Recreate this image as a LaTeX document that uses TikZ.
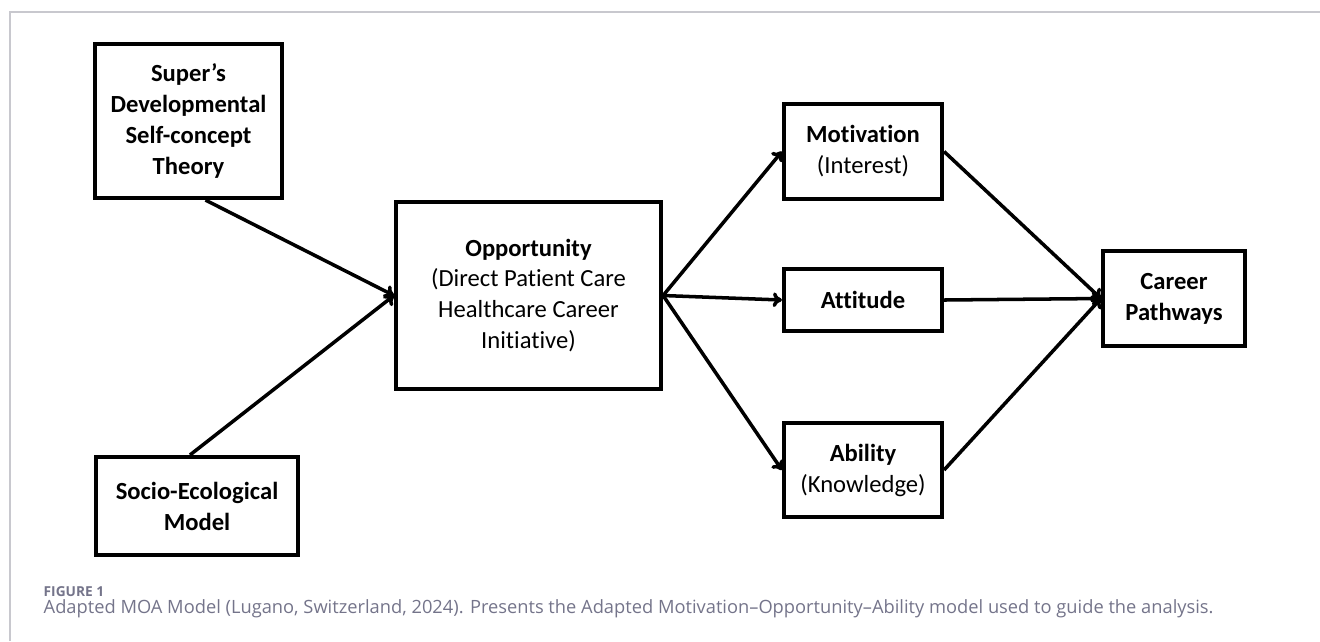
\documentclass[tikz,border=0pt]{standalone}
\usepackage{fontspec}
\setmainfont{Carlito}[Ligatures={TeX,NoCommon}]
\newfontfamily\capfont{Open Sans}
\usetikzlibrary{arrows.meta}
\definecolor{capgray}{HTML}{74748A}
\definecolor{framegray}{HTML}{C8C8CE}

\begin{document}
\begin{tikzpicture}[x=0.01cm,y=-0.01cm]
\tikzstyle{box}=[rectangle,draw,line width=1.15pt,align=center,inner sep=2pt,font=\fontsize{7}{8.8}\selectfont]
\tikzstyle{link}=[-{To[length=2.6pt,width=4.2pt]},line width=1pt]
\tikzstyle{caption}=[anchor=base west,inner sep=0pt,text=capgray]
\useasboundingbox (0,0) rectangle (1320,641);
\draw[framegray,line width=0.6pt] (10,641) -- (10,12) -- (1320,12);

% theories feeding the opportunity
\node[box,minimum width=1.87cm,minimum height=1.54cm] (super) at (188.5,121)
  {\textbf{Super’s}\\\textbf{Developmental}\\\textbf{Self-concept}\\\textbf{Theory}};
\node[box,minimum width=2.02cm,minimum height=0.98cm] (socio) at (197,506)
  {\textbf{Socio-Ecological}\\\textbf{Model}};
\node[box,minimum width=2.65cm,minimum height=1.87cm] (opp) at (528.5,295.5)
  {\textbf{Opportunity}\\(Direct Patient Care\\Healthcare Career\\Initiative)};

% M, A, A
\node[box,minimum width=1.58cm,minimum height=0.95cm] (mot) at (863,151.5)
  {\textbf{Motivation}\\(Interest)};
\node[box,minimum width=1.58cm,minimum height=0.62cm] (att) at (863,300)
  {\textbf{Attitude}};
\node[box,minimum width=1.58cm,minimum height=0.94cm] (abl) at (863,470)
  {\textbf{Ability}\\(Knowledge)};
\node[box,minimum width=1.42cm,minimum height=0.95cm] (car) at (1174,298.5)
  {\textbf{Career}\\\textbf{Pathways}};

\draw[link] ([xshift=1.7mm]super.south) -- (opp.west);
\draw[link] ([xshift=-0.7mm]socio.north) -- (opp.west);
\draw[link] (opp.east) -- (mot.west);
\draw[link] (opp.east) -- (att.west);
\draw[link] (opp.east) -- (abl.west);
\draw[link] (mot.east) -- (car.west);
\draw[link] (att.east) -- (car.west);
\draw[link] (abl.east) -- (car.west);

% caption
\node[caption,font=\capfont\bfseries\fontsize{3.9}{4.5}\selectfont] (fig) at (43,596) {FIGURE 1};
\node[caption,font=\capfont\fontsize{5.2}{6.3}\selectfont] (captext) at (43,613)
  {Adapted MOA Model (Lugano, Switzerland, 2024). Presents the Adapted Motivation–Opportunity–Ability model used to guide the analysis.};
\end{tikzpicture}
\end{document}
